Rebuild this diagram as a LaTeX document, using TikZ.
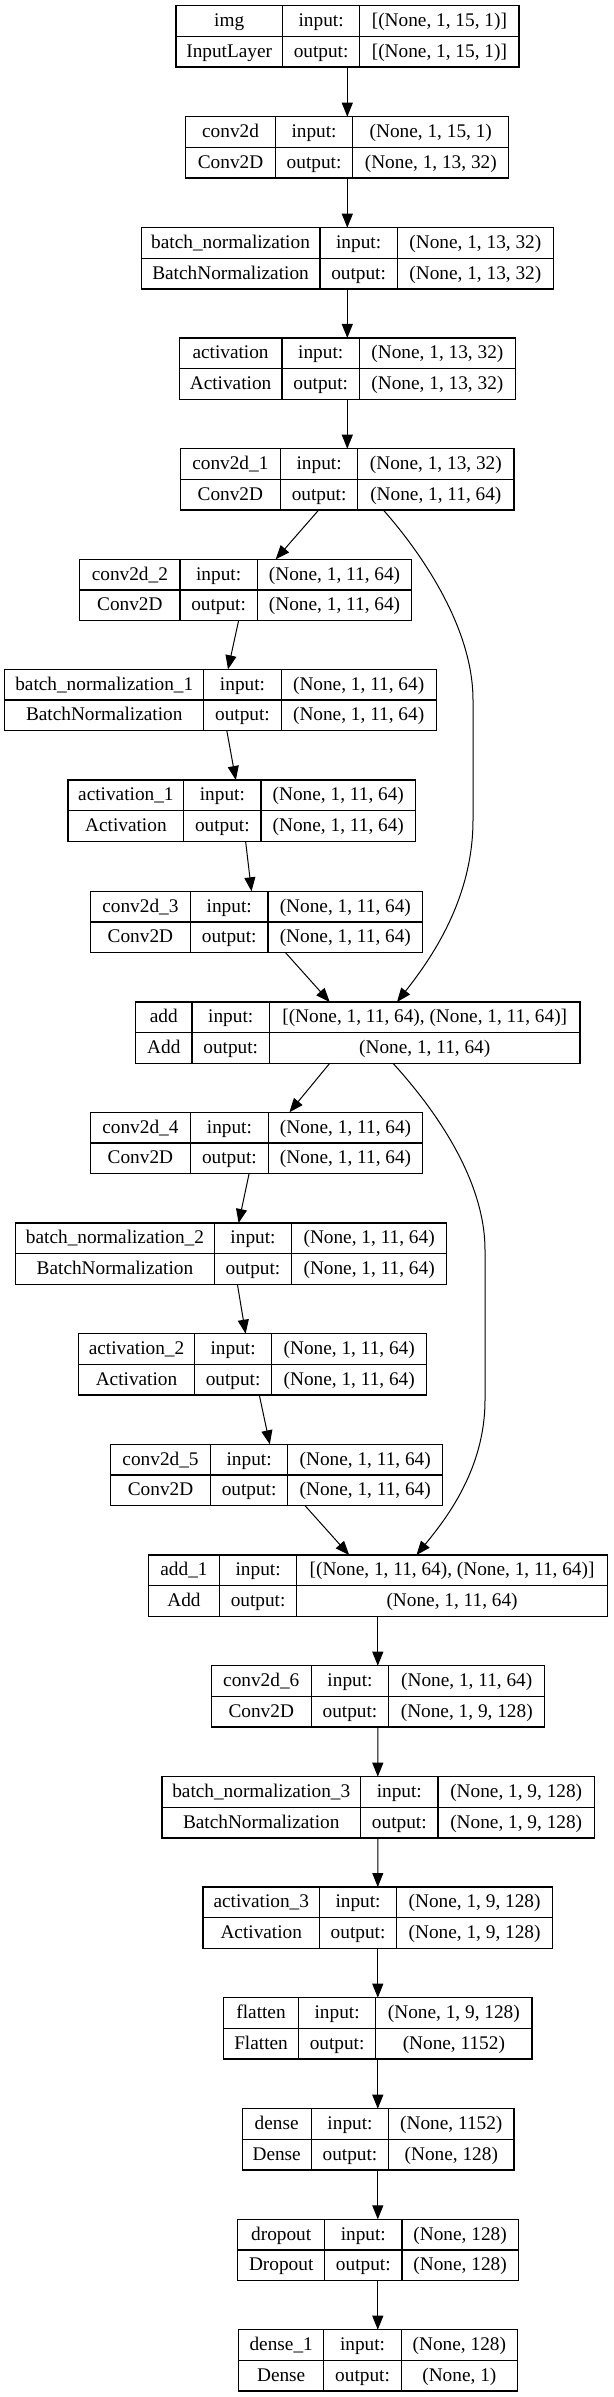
\documentclass[tikz,border=0pt]{standalone}
\usepackage{fontspec}
\setmainfont{Liberation Serif}
\usetikzlibrary{arrows.meta}
\tikzset{
  lay/.style={draw=black, line width=1.2pt, rectangle, inner sep=0pt, outer sep=0pt, minimum height=61.3pt, anchor=north west},
  cell/.style={draw=black, line width=1.2pt},
  txt/.style={inner sep=0pt, font=\fontsize{19.3}{23}\selectfont, text height=14.5pt, text depth=3.5pt},
  arr/.style={draw=black, line width=1pt, -{Triangle[length=14pt,width=11pt]}}
}
% id, x1, ytop, x2, c1, c2
\newcommand\lbox[6]{%
  \node[lay, minimum width={(#4)-(#2)}] (#1) at (#2,#3) {};
  \draw[cell] (#5,#3) -- (#5,{#3+61.3}) (#6,#3) -- (#6,{#3+61.3}) (#2,{#3+30.65}) -- (#4,{#3+30.65});
  \coordinate (#1-a) at ({(#2+#5)/2},{#3+15.33});
  \coordinate (#1-b) at ({(#5+#6)/2},{#3+15.33});
  \coordinate (#1-c) at ({(#6+#4)/2},{#3+15.33});
  \coordinate (#1-d) at ({(#2+#5)/2},{#3+45.98});
  \coordinate (#1-e) at ({(#5+#6)/2},{#3+45.98});
  \coordinate (#1-f) at ({(#6+#4)/2},{#3+45.98});
}
% id, name, type, in, out
\newcommand\ltext[5]{%
  \node[txt] (#1-name) at (#1-a) {#2};
  \node[txt] (#1-inl) at (#1-b) {input:};
  \node[txt] (#1-in) at (#1-c) {#4};
  \node[txt] (#1-type) at (#1-d) {#3};
  \node[txt] (#1-outl) at (#1-e) {output:};
  \node[txt] (#1-out) at (#1-f) {#5};
}
\begin{document}
\begin{tikzpicture}[x=1pt,y=-1pt]
\useasboundingbox[fill=white] (0,0) rectangle (613,2397);

\lbox{l1}{176.0}{5.7}{519.0}{282.4}{359.8}
\ltext{l1}{img}{InputLayer}{[(None, 1, 15, 1)]}{[(None, 1, 15, 1)]}
\lbox{l2}{185.8}{116.7}{508.8}{275.3}{352.8}
\ltext{l2}{conv2d}{Conv2D}{(None, 1, 15, 1)}{(None, 1, 13, 32)}
\lbox{l3}{141.2}{227.7}{553.4}{319.9}{397.3}
\ltext{l3}{batch\_normalization}{BatchNormalization}{(None, 1, 13, 32)}{(None, 1, 13, 32)}
\lbox{l4}{179.1}{338}{515.4}{282.0}{359.4}
\ltext{l4}{activation}{Activation}{(None, 1, 13, 32)}{(None, 1, 13, 32)}
\lbox{l5}{180.3}{448.7}{513.9}{280.4}{357.8}
\ltext{l5}{conv2d\_1}{Conv2D}{(None, 1, 13, 32)}{(None, 1, 11, 64)}
\lbox{l6}{79.8}{559.3}{411.8}{179.9}{257.3}
\ltext{l6}{conv2d\_2}{Conv2D}{(None, 1, 11, 64)}{(None, 1, 11, 64)}
\lbox{l7}{4.7}{669.3}{436.1}{203.8}{281.2}
\ltext{l7}{batch\_normalization\_1}{BatchNormalization}{(None, 1, 11, 64)}{(None, 1, 11, 64)}
\lbox{l8}{68.0}{780}{415.7}{183.8}{260.9}
\ltext{l8}{activation\_1}{Activation}{(None, 1, 11, 64)}{(None, 1, 11, 64)}
\lbox{l9}{90.3}{891.3}{422.8}{190.5}{267.9}
\ltext{l9}{conv2d\_3}{Conv2D}{(None, 1, 11, 64)}{(None, 1, 11, 64)}
\lbox{l10}{135.7}{1002}{580.0}{192.0}{269.5}
\ltext{l10}{add}{Add}{[(None, 1, 11, 64), (None, 1, 11, 64)]}{(None, 1, 11, 64)}
\lbox{l11}{90.3}{1112.3}{422.8}{190.5}{268.3}
\ltext{l11}{conv2d\_4}{Conv2D}{(None, 1, 11, 64)}{(None, 1, 11, 64)}
\lbox{l12}{15.6}{1223}{446.6}{214.3}{291.7}
\ltext{l12}{batch\_normalization\_2}{BatchNormalization}{(None, 1, 11, 64)}{(None, 1, 11, 64)}
\lbox{l13}{78.6}{1333.7}{426.7}{194.4}{271.8}
\ltext{l13}{activation\_2}{Activation}{(None, 1, 11, 64)}{(None, 1, 11, 64)}
\lbox{l14}{110.7}{1444.3}{442.7}{210.4}{287.8}
\ltext{l14}{conv2d\_5}{Conv2D}{(None, 1, 11, 64)}{(None, 1, 11, 64)}
\lbox{l15}{148.6}{1555}{607.4}{219.4}{296.8}
\ltext{l15}{add\_1}{Add}{[(None, 1, 11, 64), (None, 1, 11, 64)]}{(None, 1, 11, 64)}
\lbox{l16}{211.2}{1665.7}{544.8}{311.3}{388.7}
\ltext{l16}{conv2d\_6}{Conv2D}{(None, 1, 11, 64)}{(None, 1, 9, 128)}
\lbox{l17}{161.9}{1776.7}{594.4}{360.6}{438.0}
\ltext{l17}{batch\_normalization\_3}{BatchNormalization}{(None, 1, 9, 128)}{(None, 1, 9, 128)}
\lbox{l18}{203.0}{1887}{552.6}{319.5}{396.6}
\ltext{l18}{activation\_3}{Activation}{(None, 1, 9, 128)}{(None, 1, 9, 128)}
\lbox{l19}{223.7}{1997.7}{531.9}{298.4}{375.8}
\ltext{l19}{flatten}{Flatten}{(None, 1, 9, 128)}{(None, 1152)}
\lbox{l20}{242.1}{2108.7}{513.9}{311.3}{388.7}
\ltext{l20}{dense}{Dense}{(None, 1152)}{(None, 128)}
\lbox{l21}{237.8}{2219.3}{518.2}{324.6}{402.0}
\ltext{l21}{dropout}{Dropout}{(None, 128)}{(None, 128)}
\lbox{l22}{238.6}{2329.7}{517.4}{323.8}{401.3}
\ltext{l22}{dense\_1}{Dense}{(None, 128)}{(None, 1)}

% connectors
\draw[arr] ([xshift=171.3pt]l1.south west) -- ([xshift=161.5pt]l2.north west);
\draw[arr] ([xshift=161.5pt]l2.south west) -- ([xshift=206.1pt]l3.north west);
\draw[arr] ([xshift=206.1pt]l3.south west) -- ([xshift=168.2pt]l4.north west);
\draw[arr] ([xshift=168.2pt]l4.south west) -- ([xshift=167.0pt]l5.north west);
\draw[arr] ([xshift=138.4pt]l5.south west) -- ([xshift=195.9pt]l6.north west);
\draw[arr] ([xshift=158.8pt]l6.south west) -- ([xshift=223.3pt]l7.north west);
\draw[arr] ([xshift=222.1pt]l7.south west) -- ([xshift=167.8pt]l8.north west);
\draw[arr] ([xshift=177.6pt]l8.south west) -- ([xshift=161.2pt]l9.north west);
\draw[arr] ([xshift=195.2pt]l9.south west) -- ([xshift=194.0pt]l10.north west);
\draw[arr] ([xshift=203.0pt]l5.south west) .. controls (410,540) and (473,620) .. (473,700) -- (473,820) .. controls (473,900) and (430,960) .. ([xshift=261.3pt]l10.north west);
\draw[arr] ([xshift=194.0pt]l10.south west) -- ([xshift=199.1pt]l11.north west);
\draw[arr] ([xshift=257.3pt]l10.south west) .. controls (420,1093) and (485,1170) .. (485,1250) -- (485,1400) .. controls (485,1470) and (445,1520) .. ([xshift=267.9pt]l15.north west);
\draw[arr] ([xshift=158.8pt]l11.south west) -- ([xshift=223.0pt]l12.north west);
\draw[arr] ([xshift=221.8pt]l12.south west) -- ([xshift=167.0pt]l13.north west);
\draw[arr] ([xshift=180.7pt]l13.south west) -- ([xshift=159.1pt]l14.north west);
\draw[arr] ([xshift=194.3pt]l14.south west) -- ([xshift=200.6pt]l15.north west);
\draw[arr] ([xshift=229.2pt]l15.south west) -- ([xshift=166.6pt]l16.north west);
\draw[arr] ([xshift=166.6pt]l16.south west) -- ([xshift=215.9pt]l17.north west);
\draw[arr] ([xshift=215.9pt]l17.south west) -- ([xshift=174.8pt]l18.north west);
\draw[arr] ([xshift=174.8pt]l18.south west) -- ([xshift=154.1pt]l19.north west);
\draw[arr] ([xshift=154.1pt]l19.south west) -- ([xshift=135.7pt]l20.north west);
\draw[arr] ([xshift=135.7pt]l20.south west) -- ([xshift=140.0pt]l21.north west);
\draw[arr] ([xshift=140.0pt]l21.south west) -- ([xshift=139.2pt]l22.north west);
\end{tikzpicture}
\end{document}
